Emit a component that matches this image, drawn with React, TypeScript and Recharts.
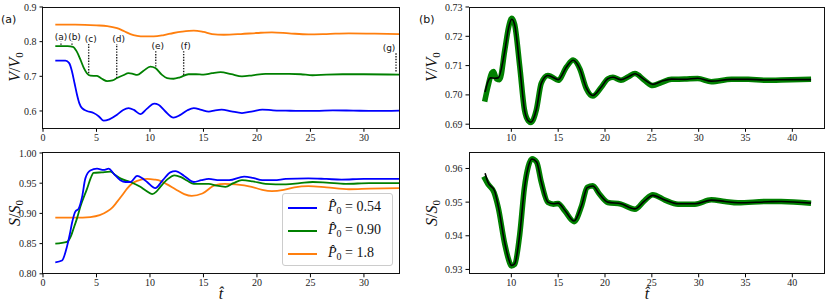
import React from 'react'
import { LineChart, Line, XAxis, YAxis, ReferenceLine } from 'recharts'

// ---- panel (a), top: V/V0 vs t ----
const tBlueV = [1.15, 2.1, 2.45, 2.71, 2.95, 3.18, 3.4, 3.65, 4.1, 4.73, 5.2, 5.67, 6.2, 6.92, 7.5, 8.0, 8.5, 9.1, 9.7, 10.4, 10.8, 11.4, 12.2, 12.8, 13.5, 14.1, 14.8, 15.5, 16.1, 16.7, 17.6, 18.6, 19.6, 20.5, 21.5, 22.7, 24, 25.5, 27.1, 29, 31, 33.3]
const vBlue = [0.745, 0.745, 0.738, 0.714, 0.68, 0.647, 0.622, 0.608, 0.6, 0.594, 0.585, 0.572, 0.576, 0.589, 0.603, 0.608, 0.603, 0.591, 0.606, 0.621, 0.618, 0.6, 0.581, 0.588, 0.602, 0.608, 0.603, 0.598, 0.602, 0.604, 0.599, 0.594, 0.599, 0.604, 0.602, 0.601, 0.6, 0.6, 0.602, 0.601, 0.6, 0.601]

const tGreenV = [1.15, 2.3, 2.8, 3.15, 3.5, 3.8, 4.1, 4.43, 5.05, 5.5, 5.99, 6.5, 6.92, 7.5, 8.0, 8.4, 8.8, 9.4, 10.04, 10.5, 11.1, 11.6, 12.2, 12.8, 13.6, 14.3, 15.0, 15.8, 16.6, 17.6, 18.6, 19.6, 20.8, 22, 23.0, 24.1, 25.2, 26.5, 28, 30, 33.3]
const vGreen = [0.787, 0.787, 0.785, 0.772, 0.748, 0.725, 0.709, 0.702, 0.701, 0.693, 0.686, 0.688, 0.695, 0.703, 0.709, 0.707, 0.704, 0.716, 0.728, 0.724, 0.705, 0.695, 0.693, 0.697, 0.706, 0.706, 0.705, 0.709, 0.712, 0.706, 0.7, 0.703, 0.707, 0.707, 0.707, 0.706, 0.703, 0.705, 0.706, 0.706, 0.705]

const tOrangeV = [1.15, 3, 5, 6.0, 6.92, 7.6, 8.17, 8.8, 9.41, 10.35, 11.3, 12.2, 13.0, 14.1, 15.0, 15.8, 16.9, 18.5, 20, 21.4, 23, 24.8, 26.5, 28.6, 31, 33.3]
const vOrange = [0.849, 0.849, 0.847, 0.845, 0.839, 0.83, 0.822, 0.817, 0.815, 0.815, 0.819, 0.825, 0.829, 0.832, 0.828, 0.822, 0.82, 0.822, 0.825, 0.827, 0.824, 0.821, 0.822, 0.824, 0.823, 0.822]

// ---- panel (a), bottom: S/S0 vs t ----
const tBlueS = [1.15, 1.78, 2.24, 2.5, 2.71, 3.02, 3.33, 3.65, 3.96, 4.42, 5.05, 5.67, 6.14, 6.6, 7.23, 7.7, 8.17, 8.8, 9.3, 9.73, 10.5, 11.2, 11.9, 12.38, 13.2, 14.1, 14.8, 15.5, 16.5, 17.4, 18.8, 19.6, 20.5, 21.6, 22.7, 24.8, 26.5, 27.9, 30, 33.3]
const sBlue = [0.819, 0.822, 0.845, 0.865, 0.884, 0.903, 0.908, 0.927, 0.958, 0.971, 0.974, 0.972, 0.974, 0.966, 0.955, 0.952, 0.952, 0.962, 0.958, 0.952, 0.942, 0.955, 0.968, 0.97, 0.962, 0.952, 0.955, 0.957, 0.955, 0.955, 0.961, 0.959, 0.955, 0.955, 0.957, 0.958, 0.957, 0.956, 0.957, 0.957]

const tGreenS = [1.15, 2.24, 2.6, 2.86, 3.2, 3.49, 4.12, 4.45, 4.73, 5.5, 6.3, 6.8, 7.23, 8.17, 9.1, 9.6, 10.2, 10.6, 10.97, 11.6, 12.3, 12.9, 13.5, 14.1, 15.5, 16.2, 17.05, 17.8, 18.6, 19.6, 20.8, 22.7, 24, 25.2, 26.5, 28.3, 30.5, 33.3]
const sGreen = [0.85, 0.853, 0.862, 0.875, 0.893, 0.911, 0.941, 0.958, 0.967, 0.968, 0.969, 0.963, 0.958, 0.952, 0.944, 0.938, 0.932, 0.936, 0.944, 0.956, 0.963, 0.96, 0.954, 0.949, 0.949, 0.946, 0.944, 0.95, 0.955, 0.953, 0.949, 0.948, 0.95, 0.952, 0.951, 0.949, 0.95, 0.95]

const tOrangeS = [1.15, 3, 4.42, 5.3, 5.99, 6.5, 6.92, 7.4, 7.86, 8.3, 8.8, 9.73, 10.4, 10.97, 11.6, 12.38, 13.2, 13.9, 14.9, 16.1, 17.0, 18.0, 19.5, 20.5, 21.4, 22.5, 23.5, 24.8, 26.5, 28.6, 30.5, 33.3]
const sOrange = [0.893, 0.893, 0.894, 0.897, 0.903, 0.91, 0.919, 0.93, 0.941, 0.949, 0.954, 0.957, 0.956, 0.954, 0.948, 0.94, 0.932, 0.929, 0.933, 0.947, 0.949, 0.948, 0.944, 0.939, 0.937, 0.939, 0.943, 0.945, 0.943, 0.94, 0.941, 0.942]

// annotations (a)-(g) on the top-left panel
const annLabels = ['(a)', '(b)', '(c)', '(d)', '(e)', '(f)', '(g)']
const annT = [1.68, 2.71, 4.27, 6.89, 10.54, 13.15, 33.0]
const annTop = [0.8, 0.8, 0.793, 0.793, 0.772, 0.772, 0.767]
const annBottom = [0.791, 0.791, 0.709, 0.695, 0.728, 0.704, 0.714]
const annShift = [0, 2.5, 2, 2, 2, 2, -7]

// ---- panel (b), top: V/V0, thick green vs thin black ----
const tGreenBV = [7.15, 7.5, 7.9, 8.1, 8.4, 8.75, 9.3, 9.7, 10.05, 10.36, 10.9, 11.4, 11.8, 12.1, 12.67, 13.2, 13.9, 14.3, 15.0, 15.9, 16.6, 17.3, 18.0, 18.7, 19.6, 20.3, 20.85, 21.7, 22.5, 23.2, 24.2, 25.1, 26.0, 27.1, 28.5, 29.9, 31.35, 33.5, 35.3, 37, 39.9, 42.0]
const vGreenB = [0.6977, 0.7028, 0.7075, 0.708, 0.7055, 0.7052, 0.7153, 0.723, 0.7262, 0.724, 0.7096, 0.6949, 0.6912, 0.6906, 0.6949, 0.704, 0.7066, 0.7062, 0.705, 0.7096, 0.7119, 0.709, 0.7022, 0.6996, 0.7026, 0.7055, 0.706, 0.705, 0.7062, 0.7073, 0.705, 0.7032, 0.7042, 0.7053, 0.7054, 0.7056, 0.7045, 0.7053, 0.7053, 0.705, 0.7052, 0.7053]

const tBlackBV = [7.2, 7.5, 7.8, 8.2, 8.6, 9.3, 9.7, 10.05, 10.36, 10.9, 11.4, 11.8, 12.1, 12.67, 13.2, 13.9, 14.3, 15.0, 15.9, 16.6, 17.3, 18.0, 18.7, 19.6, 20.3, 20.85, 21.7, 22.5, 23.2, 24.2, 25.1, 26.0, 27.1, 28.5, 29.9, 31.35, 33.5, 35.3, 37, 39.9, 42.0]
const vBlackB = [0.701, 0.7045, 0.7058, 0.7057, 0.7058, 0.715, 0.7228, 0.7258, 0.7238, 0.7095, 0.695, 0.6912, 0.6907, 0.695, 0.704, 0.7066, 0.7062, 0.7052, 0.7096, 0.7118, 0.709, 0.7024, 0.6998, 0.7027, 0.7055, 0.706, 0.7052, 0.7062, 0.7072, 0.7052, 0.7036, 0.7046, 0.7054, 0.7053, 0.7057, 0.7047, 0.7053, 0.7053, 0.7051, 0.7052, 0.7052]

// ---- panel (b), bottom: S/S0 ----
const tGreenBS = [7.05, 7.5, 8.15, 8.6, 9.3, 9.7, 10.0, 10.36, 10.9, 11.4, 11.8, 12.2, 12.7, 13.2, 13.9, 14.5, 15.0, 15.7, 16.7, 17.5, 18.1, 18.7, 19.4, 20.3, 21.7, 23.2, 24.2, 25.1, 26.4, 27.8, 29.6, 31.35, 32.8, 34.2, 37.4, 38.8, 42.0]
const sGreenB = [0.9576, 0.9554, 0.9529, 0.9484, 0.9375, 0.933, 0.931, 0.9315, 0.9405, 0.9544, 0.9605, 0.9629, 0.9619, 0.9559, 0.9499, 0.9494, 0.9496, 0.9474, 0.9442, 0.9489, 0.9544, 0.9549, 0.9524, 0.9499, 0.9494, 0.9479, 0.9504, 0.9522, 0.9506, 0.9494, 0.9494, 0.9507, 0.9502, 0.9498, 0.9502, 0.9502, 0.9497]

const tBlackBS = [7.2, 7.5, 8.2, 8.6, 9.3, 9.7, 10.0, 10.36, 10.9, 11.4, 11.8, 12.2, 12.7, 13.2, 13.9, 14.5, 15.0, 15.7, 16.7, 17.5, 18.1, 18.7, 19.4, 20.3, 21.7, 23.2, 24.2, 25.1, 26.4, 27.8, 29.6, 31.35, 32.8, 34.2, 37.4, 38.8, 42.0]
const sBlackB = [0.9586, 0.9559, 0.9534, 0.9488, 0.9378, 0.9332, 0.9312, 0.9317, 0.9405, 0.9542, 0.9604, 0.9628, 0.9619, 0.956, 0.95, 0.9495, 0.9497, 0.9476, 0.9444, 0.949, 0.9543, 0.9548, 0.9524, 0.95, 0.9495, 0.948, 0.9503, 0.952, 0.9506, 0.9495, 0.9495, 0.9506, 0.9502, 0.9498, 0.9501, 0.9502, 0.9497]

// ticks
const xTicksA = [0, 5, 10, 15, 20, 25, 30]
const xTicksB = [10, 15, 20, 25, 30, 35, 40]
const yTicksAV = [0.6, 0.7, 0.8, 0.9]
const yTicksAS = [0.8, 0.85, 0.9, 0.95, 1.0]
const yTicksBV = [0.69, 0.7, 0.71, 0.72, 0.73]
const yTicksBS = [0.93, 0.94, 0.95, 0.96]

const legendValues = ['0.54', '0.90', '1.8']

const BLUE = '#0000ff'
const GREEN = '#008000'
const ORANGE = '#ff7f0e'
const SERIF = '"Liberation Serif", "DejaVu Serif", serif'
const SANS = '"DejaVu Sans", sans-serif'

const zip = (ts: number[], vs: number[]) => ts.map((t, i) => ({ t, v: vs[i] }))

const Y_W = 40
const X_H = 20
const PAD_T = 8

type Box = { left: number; top: number; width: number; height: number }

const boxTL: Box = { left: 42.7, top: 7, width: 357.3, height: 121.3 }
const boxBL: Box = { left: 42.7, top: 152.7, width: 357.3, height: 120.8 }
const boxTR: Box = { left: 469.3, top: 7, width: 355, height: 121.3 }
const boxBR: Box = { left: 469.3, top: 152.7, width: 355, height: 120.8 }

const tickStyle = { fontSize: 10, fill: '#222', fontFamily: SERIF }

function Panel({ box, xDomain, yDomain, xTicks, yTicks, yFmt, children }: any) {
  return (
    <>
      <div style={{ position: 'absolute', left: box.left - Y_W, top: box.top - PAD_T }}>
        <LineChart
          width={box.width + Y_W + 6}
          height={box.height + X_H + PAD_T}
          margin={{ top: PAD_T, right: 6, bottom: 0, left: 0 }}
        >
          <XAxis
            type="number"
            dataKey="t"
            domain={xDomain}
            ticks={xTicks}
            allowDataOverflow
            height={X_H}
            axisLine={false}
            tickSize={3.5}
            tickMargin={2}
            tickLine={{ stroke: '#000' }}
            tick={tickStyle}
            interval={0}
          />
          <YAxis
            type="number"
            dataKey="v"
            domain={yDomain}
            ticks={yTicks}
            allowDataOverflow
            width={Y_W}
            axisLine={false}
            tickSize={3.5}
            tickMargin={3}
            tickLine={{ stroke: '#000' }}
            tick={tickStyle}
            tickFormatter={yFmt}
            interval={0}
          />
          {children}
        </LineChart>
      </div>
      <div
        style={{
          position: 'absolute',
          left: box.left - 0.5,
          top: box.top - 0.5,
          width: box.width + 1,
          height: box.height + 1,
          border: '1px solid #111',
          boxSizing: 'border-box',
          pointerEvents: 'none',
        }}
      />
    </>
  )
}

const line = (data: any[], color: string, width = 1.8, key?: string) => (
  <Line
    key={key}
    data={data}
    dataKey="v"
    type="monotone"
    stroke={color}
    strokeWidth={width}
    dot={false}
    activeDot={false}
    isAnimationActive={false}
  />
)

const YLabel = ({ x, y, sym }: { x: number; y: number; sym: string }) => (
  <div
    style={{
      position: 'absolute', left: x, top: y,
      transform: 'translate(-50%, -50%) rotate(-90deg)',
      fontFamily: SERIF, fontSize: 16, whiteSpace: 'nowrap', lineHeight: 1, color: '#111',
    }}
  >
    <i>{sym}</i>/<i>{sym}</i><sub style={{ fontSize: 11, verticalAlign: -3 }}>0</sub>
  </div>
)

const XLabel = ({ x, y }: { x: number; y: number }) => (
  <div
    style={{
      position: 'absolute', left: x, top: y, transform: 'translate(-50%, -50%)',
      fontFamily: SERIF, fontSize: 16, lineHeight: 1, color: '#111',
    }}
  >
    <i>t&#770;</i>
  </div>
)

const legendColors = [BLUE, GREEN, ORANGE]

export default function App() {
  return (
    <div style={{ position: 'absolute', left: 0, top: 0, width: 831, height: 307, background: '#fff', overflow: 'hidden' }}>
      {/* (a) top */}
      <Panel box={boxTL} xDomain={[0, 33.4]} yDomain={[0.55, 0.9]} xTicks={xTicksA} yTicks={yTicksAV} yFmt={(v: number) => v.toFixed(1)}>
        {line(zip(tOrangeV, vOrange), ORANGE, 1.8, 'o')}
        {line(zip(tGreenV, vGreen), GREEN, 1.8, 'g')}
        {line(zip(tBlueV, vBlue), BLUE, 1.8, 'b')}
        {annLabels.map((lab, i) => (
          <ReferenceLine
            key={lab}
            segment={[{ x: annT[i], y: annBottom[i] }, { x: annT[i], y: annTop[i] }]}
            stroke="#222"
            strokeWidth={1.4}
            strokeDasharray="1.4 1.4"
            label={{
              value: lab, position: 'top', offset: 2, fontSize: 9, fill: '#111',
              fontFamily: SANS, dx: annShift[i],
            }}
          />
        ))}
      </Panel>

      {/* (a) bottom */}
      <Panel box={boxBL} xDomain={[0, 33.4]} yDomain={[0.8, 1.0]} xTicks={xTicksA} yTicks={yTicksAS} yFmt={(v: number) => v.toFixed(2)}>
        {line(zip(tOrangeS, sOrange), ORANGE, 1.8, 'o')}
        {line(zip(tGreenS, sGreen), GREEN, 1.8, 'g')}
        {line(zip(tBlueS, sBlue), BLUE, 1.8, 'b')}
      </Panel>

      {/* (b) top */}
      <Panel box={boxTR} xDomain={[5.48, 43.38]} yDomain={[0.6886, 0.73]} xTicks={xTicksB} yTicks={yTicksBV} yFmt={(v: number) => v.toFixed(2)}>
        {line(zip(tGreenBV, vGreenB), GREEN, 5.5, 'g')}
        {line(zip(tBlackBV, vBlackB), '#000', 1.6, 'k')}
      </Panel>

      {/* (b) bottom */}
      <Panel box={boxBR} xDomain={[5.48, 43.38]} yDomain={[0.9287, 0.9646]} xTicks={xTicksB} yTicks={yTicksBS} yFmt={(v: number) => v.toFixed(2)}>
        {line(zip(tGreenBS, sGreenB), GREEN, 5.5, 'g')}
        {line(zip(tBlackBS, sBlackB), '#000', 1.6, 'k')}
      </Panel>

      {/* legend */}
      <div
        style={{
          position: 'absolute', left: 282, top: 193, width: 111, height: 73,
          border: '1px solid #ccc', borderRadius: 3, background: 'rgba(255,255,255,0.85)',
          boxSizing: 'border-box',
        }}
      >
        {legendValues.map((val, i) => (
          <div key={val} style={{ position: 'absolute', left: 5, top: 3 + i * 23, height: 21, display: 'flex', alignItems: 'center' }}>
            <div style={{ width: 29, height: 2, background: legendColors[i] }} />
            <div style={{ marginLeft: 11, fontFamily: SERIF, fontSize: 14, whiteSpace: 'nowrap', color: '#111' }}>
              <i>P&#770;</i><sub style={{ fontSize: 10, verticalAlign: -3 }}>0</sub> = {val}
            </div>
          </div>
        ))}
      </div>

      <YLabel x={16} y={67} sym="V" />
      <YLabel x={16} y={213} sym="S" />
      <YLabel x={433} y={67} sym="V" />
      <YLabel x={433} y={213} sym="S" />
      <XLabel x={221} y={294} />
      <XLabel x={647} y={294} />

      <div style={{ position: 'absolute', left: 1, top: 13, fontFamily: SANS, fontSize: 11, color: '#111' }}>(a)</div>
      <div style={{ position: 'absolute', left: 419, top: 13, fontFamily: SANS, fontSize: 11, color: '#111' }}>(b)</div>
    </div>
  )
}
